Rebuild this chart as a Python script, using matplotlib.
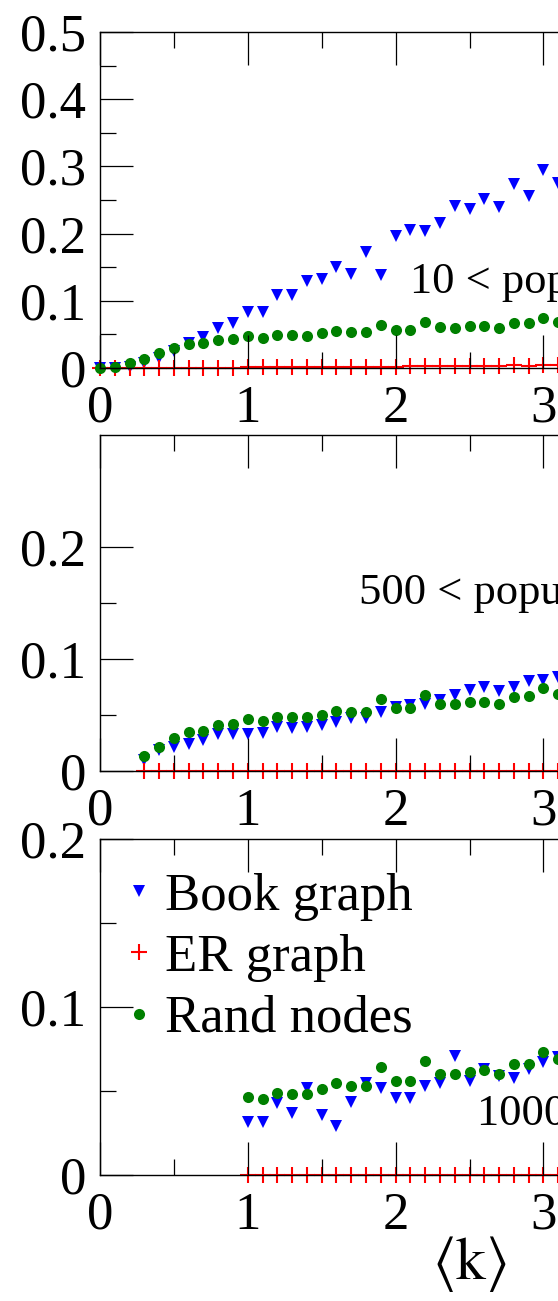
import matplotlib
matplotlib.use('Agg')
import matplotlib.pyplot as plt
from matplotlib.ticker import FormatStrFormatter

plt.rcParams['font.family'] = ['Liberation Serif', 'DejaVu Serif']
plt.rcParams['mathtext.fontset'] = 'stix'

# <k> grid, one list per panel
k_top = [0.0, 0.1, 0.2, 0.3, 0.4, 0.5, 0.6, 0.7, 0.8, 0.9, 1.0, 1.1, 1.2, 1.3, 1.4, 1.5,
         1.6, 1.7, 1.8, 1.9, 2.0, 2.1, 2.2, 2.3, 2.4, 2.5, 2.6, 2.7, 2.8, 2.9, 3.0, 3.1]
k_mid = k_top[3:]
k_bot = k_top[10:]

# panel 1: 10 < population < 500
book_top = [0.0, 0.0, 0.002, 0.007, 0.015, 0.025, 0.037, 0.046, 0.059, 0.067, 0.083, 0.083,
            0.109, 0.109, 0.130, 0.132, 0.150, 0.140, 0.173, 0.139, 0.196, 0.206, 0.204,
            0.216, 0.241, 0.236, 0.251, 0.240, 0.274, 0.256, 0.294, 0.276]
er_top = [0, 0, 0, 0, 0, 0, 0, 0, 0, 0, 0.001, 0.001, 0.001, 0.0015, 0.002, 0.0015, 0.002,
          0.002, 0.0015, 0.001, 0.002, 0.0025, 0.0025, 0.0025, 0.0035, 0.003, 0.003, 0.003,
          0.004, 0.003, 0.004, 0.004]
rand_top = [0.0, 0.001, 0.008, 0.014, 0.023, 0.030, 0.035, 0.037, 0.042, 0.043, 0.047, 0.045,
            0.049, 0.049, 0.048, 0.052, 0.055, 0.054, 0.054, 0.064, 0.056, 0.056, 0.068,
            0.061, 0.059, 0.062, 0.063, 0.060, 0.067, 0.067, 0.074, 0.069]

# panel 2: 500 < population < 1000
book_mid = [0.0096, 0.0185, 0.021, 0.0245, 0.028, 0.033, 0.033, 0.033, 0.034, 0.039, 0.038,
            0.039, 0.0415, 0.044, 0.0475, 0.047, 0.053, 0.057, 0.059, 0.060, 0.063, 0.068,
            0.072, 0.075, 0.071, 0.0746, 0.080, 0.081, 0.084]
er_mid = [0.0] * len(k_mid)
rand_mid = [0.013, 0.0215, 0.0296, 0.035, 0.036, 0.041, 0.042, 0.046, 0.045, 0.048, 0.048,
            0.048, 0.050, 0.054, 0.053, 0.053, 0.064, 0.056, 0.056, 0.068, 0.060, 0.060,
            0.062, 0.062, 0.060, 0.066, 0.067, 0.074, 0.069]

# panel 3: 1000 < population
book_bot = [0.0317, 0.0317, 0.043, 0.037, 0.0515, 0.036, 0.029, 0.0436, 0.055, 0.052, 0.046,
            0.046, 0.053, 0.0545, 0.071, 0.056, 0.063, 0.059, 0.058, 0.063, 0.067, 0.070]
er_bot = [0.0] * len(k_bot)
rand_bot = [0.0465, 0.0455, 0.049, 0.0485, 0.0485, 0.051, 0.055, 0.053, 0.053, 0.064, 0.056,
            0.056, 0.068, 0.060, 0.060, 0.0614, 0.0624, 0.060, 0.066, 0.0663, 0.073, 0.069]

fig = plt.figure(figsize=(5.58, 13.01), dpi=100)

W, H = 558, 1301
left = 100 / W
width = 739 / W   # axes run past the right edge of the picture (cropped)
h = 336 / H

ax1 = fig.add_axes([left, (H - 368) / H, width, h])
ax2 = fig.add_axes([left, (H - 771) / H, width, h])
ax3 = fig.add_axes([left, (H - 1175) / H, width, h])

panels = [
    (ax1, k_top, book_top, er_top, rand_top, 0.5, [0, 0.1, 0.2, 0.3, 0.4, 0.5],
     [0.05, 0.15, 0.25, 0.35, 0.45]),
    (ax2, k_mid, book_mid, er_mid, rand_mid, 0.3, [0, 0.1, 0.2], [0.05, 0.15]),
    (ax3, k_bot, book_bot, er_bot, rand_bot, 0.2, [0, 0.1, 0.2], [0.05, 0.15]),
]

for ax, k, book, er, rnd, ytop, major, minor in panels:
    ax.plot(k, book, 'v', color='blue', ms=9, mew=0, clip_on=False, label='Book graph')
    ax.plot(k, er, '+', color='red', ms=11.5, mew=1.5, clip_on=False, label='ER graph')
    ax.plot(k, rnd, 'o', color='green', ms=8, mew=0, clip_on=False, label='Rand nodes')
    ax.set_xlim(0, 5)
    ax.set_ylim(0, ytop)
    ax.set_xticks([0, 1, 2, 3, 4, 5])
    ax.set_xticks([0.5, 1.5, 2.5, 3.5, 4.5], minor=True)
    ax.set_yticks(major)
    ax.set_yticks(minor, minor=True)
    ax.xaxis.set_major_formatter(FormatStrFormatter('%g'))
    ax.yaxis.set_major_formatter(FormatStrFormatter('%g'))
    ax.tick_params(which='both', direction='in', top=True, right=True, width=0.9,
                   labelsize=38)
    ax.tick_params(which='major', length=24)
    ax.tick_params(which='minor', length=11.5)
    ax.tick_params(axis='x', pad=12)
    ax.tick_params(axis='y', pad=10)
    for sp in ax.spines.values():
        sp.set_linewidth(1.0)
    ax.set_axisbelow(False)

ax1.text(2.1, 0.112, '10 < population < 500', fontsize=32, ha='left', va='baseline')
ax2.text(1.75, 0.149, '500 < population < 1000', fontsize=32, ha='left', va='baseline')
ax3.text(2.55, 0.0297, '1000 < population', fontsize=32, ha='left', va='baseline')

ax3.legend(loc='upper left', bbox_to_anchor=(0.031, 0.9), frameon=False, fontsize=38,
           handlelength=0.6, handletextpad=0.2, labelspacing=0.25, borderpad=0,
           borderaxespad=0)

ax3.set_xlabel(r'$\langle \mathrm{k} \rangle$', fontsize=43, labelpad=-4)

fig.savefig('out.png', dpi=100)
